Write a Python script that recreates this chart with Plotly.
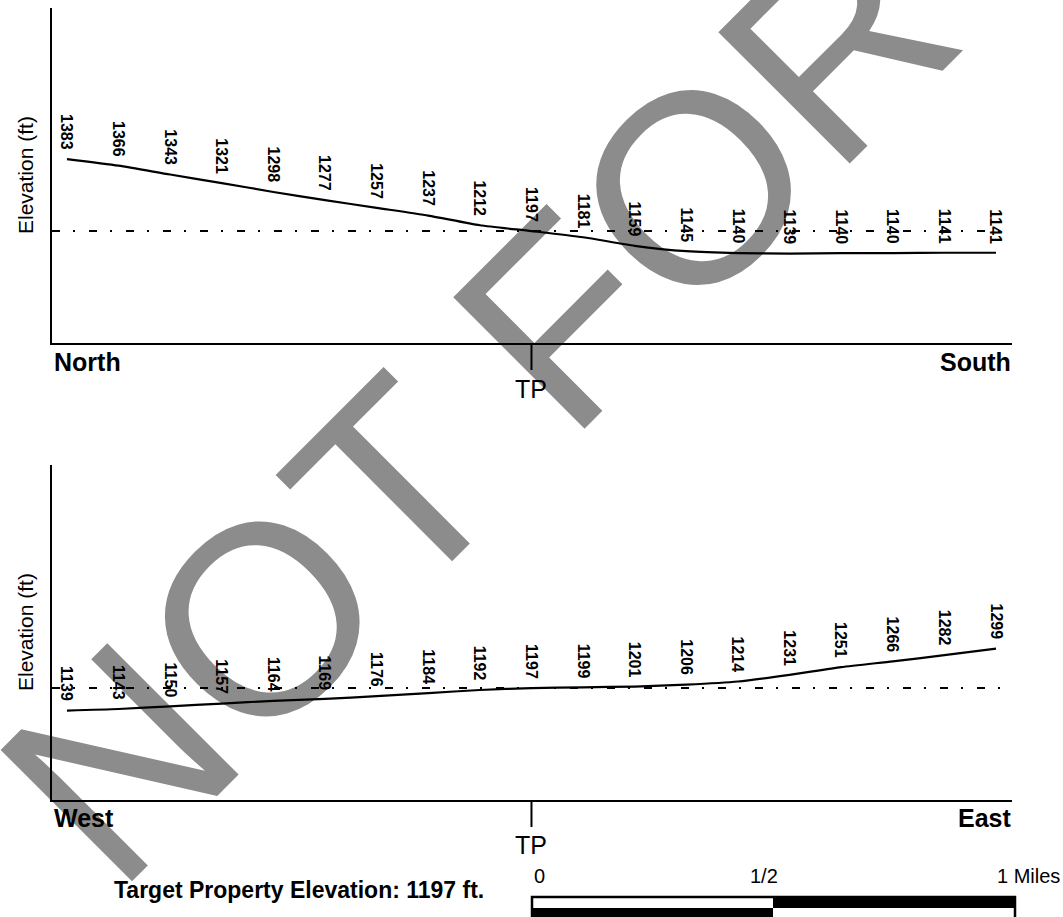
import plotly.graph_objects as go

# ---------------- data ----------------
ns_elev = [1383, 1366, 1343, 1321, 1298, 1277, 1257, 1237, 1212, 1197,
           1181, 1159, 1145, 1140, 1139, 1140, 1140, 1141, 1141]
we_elev = [1139, 1143, 1150, 1157, 1164, 1169, 1176, 1184, 1192, 1197,
           1199, 1201, 1206, 1214, 1231, 1251, 1266, 1282, 1299]
positions = list(range(len(ns_elev)))
tp_index = 9
tp_elev = 1197
ns_ends = ["North", "South"]
we_ends = ["West", "East"]
scale_labels = ["0", "1/2", "1 Miles"]
watermark = "NOT FOR"

FONT = "Liberation Sans, Arial, Helvetica, sans-serif"
W, H = 1063, 917
ML, MR, MT, MB = 52, 51, 8, 117
PW = W - ML - MR
PH = H - MT - MB


def px(x):
    return (x - ML) / PW


def py(y):
    return (H - MB - y) / PH


fig = go.Figure()

# watermark drawn in an underlying full-area overlay subplot (x/y in pixel units)
wm_cx, wm_cy = 478, 403
fig.add_trace(go.Bar(
    x=[wm_cx], y=[2], base=[H - wm_cy - 1], width=[2],
    text=[watermark], textposition="inside", insidetextanchor="middle",
    textangle=-45, constraintext="none", cliponaxis=False,
    insidetextfont=dict(family=FONT, size=270, color="#8c8c8c"),
    marker=dict(color="rgba(0,0,0,0)", line=dict(width=0)),
    hoverinfo="skip", showlegend=False, xaxis="x", yaxis="y"))

# profile lines
fig.add_trace(go.Scatter(x=positions, y=ns_elev, mode="lines",
                         line=dict(color="black", width=2.2, shape="spline", smoothing=0.6),
                         hoverinfo="skip", showlegend=False, xaxis="x2", yaxis="y2"))
fig.add_trace(go.Scatter(x=positions, y=we_elev, mode="lines",
                         line=dict(color="black", width=2.2, shape="spline", smoothing=0.6),
                         hoverinfo="skip", showlegend=False, xaxis="x3", yaxis="y3"))

yr = [908, 1773]
xr = [-0.29, len(positions) - 1 + 0.31]
top_dom = [py(343), 1.0]
bot_dom = [0.0, py(465)]

ax_common = dict(showgrid=False, zeroline=False, showticklabels=False, ticks="",
                 showline=True, linecolor="black", linewidth=2, fixedrange=True)

fig.update_layout(
    width=W, height=H,
    margin=dict(l=ML, r=MR, t=MT, b=MB, pad=0),
    paper_bgcolor="white", plot_bgcolor="rgba(0,0,0,0)",
    showlegend=False,
    xaxis=dict(domain=[0, 1], range=[ML, W - MR], visible=False, fixedrange=True),
    yaxis=dict(domain=[0, 1], range=[MB, H - MT], visible=False, fixedrange=True),
    xaxis2=dict(domain=[0, 1], range=xr, anchor="y2", **ax_common),
    yaxis2=dict(domain=top_dom, range=yr, anchor="x2", **ax_common),
    xaxis3=dict(domain=[0, 1], range=xr, anchor="y3", **ax_common),
    yaxis3=dict(domain=bot_dom, range=yr, anchor="x3", **ax_common),
)

shapes = []
anns = []

panels = [("x2", "y2", ns_elev, ns_ends, 343, 362, 389, 175),
          ("x3", "y3", we_elev, we_ends, 800, 818, 845, 632)]

for xa, ya, elev, ends, axis_y, end_y, tp_y, title_y in panels:
    # target property elevation reference line
    shapes.append(dict(type="line", xref=xa + " domain", yref=ya, x0=0, x1=1,
                       y0=tp_elev, y1=tp_elev, layer="above",
                       line=dict(color="black", width=2, dash="8px,13px,2px,14px")))
    # TP tick
    shapes.append(dict(type="line", xref=xa, yref=ya + " domain", x0=tp_index, x1=tp_index,
                       y0=0, y1=-27 / 335, layer="above",
                       line=dict(color="black", width=2)))
    # elevation labels
    for i, v in zip(positions, elev):
        anns.append(dict(x=i, y=v, xref=xa, yref=ya, text="<b>%d</b>" % v,
                         showarrow=False, textangle=90, xanchor="center", yanchor="bottom",
                         yshift=7, font=dict(family=FONT, size=16, color="black")))
    # direction labels
    anns.append(dict(x=px(52), y=py(end_y), xref="paper", yref="paper", text="<b>%s</b>" % ends[0],
                     showarrow=False, xanchor="left", yanchor="middle",
                     font=dict(family=FONT, size=25, color="black")))
    anns.append(dict(x=px(1013), y=py(end_y), xref="paper", yref="paper", text="<b>%s</b>" % ends[1],
                     showarrow=False, xanchor="right", yanchor="middle",
                     font=dict(family=FONT, size=25, color="black")))
    anns.append(dict(x=tp_index, y=py(tp_y), xref=xa, yref="paper", text="TP",
                     showarrow=False, xanchor="center", yanchor="middle",
                     font=dict(family=FONT, size=25, color="black")))
    anns.append(dict(x=px(25), y=py(title_y), xref="paper", yref="paper", text="Elevation (ft)",
                     showarrow=False, textangle=-90, xanchor="center", yanchor="middle",
                     font=dict(family=FONT, size=21, color="black")))

# footer text
anns.append(dict(x=px(112), y=py(890), xref="paper", yref="paper",
                 text="<b>Target Property Elevation: %d ft.</b>" % tp_elev,
                 showarrow=False, xanchor="left", yanchor="middle",
                 font=dict(family=FONT, size=23, color="black")))

# scale bar
sb_l, sb_m, sb_r = 532, 773, 1015
sb_t, sb_c, sb_b = 897, 908, 930
shapes.append(dict(type="rect", xref="paper", yref="paper", x0=px(sb_l), x1=px(sb_r),
                   y0=py(sb_b), y1=py(sb_t), fillcolor="white", line=dict(color="black", width=2.5)))
shapes.append(dict(type="rect", xref="paper", yref="paper", x0=px(sb_m), x1=px(sb_r),
                   y0=py(sb_c), y1=py(sb_t), fillcolor="black", line=dict(width=0)))
shapes.append(dict(type="rect", xref="paper", yref="paper", x0=px(sb_l), x1=px(sb_m),
                   y0=py(sb_b), y1=py(sb_c), fillcolor="black", line=dict(width=0)))
for lab, xx, anc in zip(scale_labels, [532, 764, 995], ["left", "center", "left"]):
    anns.append(dict(x=px(xx), y=py(876), xref="paper", yref="paper", text=lab,
                     showarrow=False, xanchor=anc, yanchor="middle",
                     font=dict(family=FONT, size=20, color="black")))

fig.update_layout(shapes=shapes, annotations=anns)
fig.write_html("out.html", config={"displayModeBar": False},
               post_script="document.body.style.margin='0';document.body.style.overflow='hidden';")
